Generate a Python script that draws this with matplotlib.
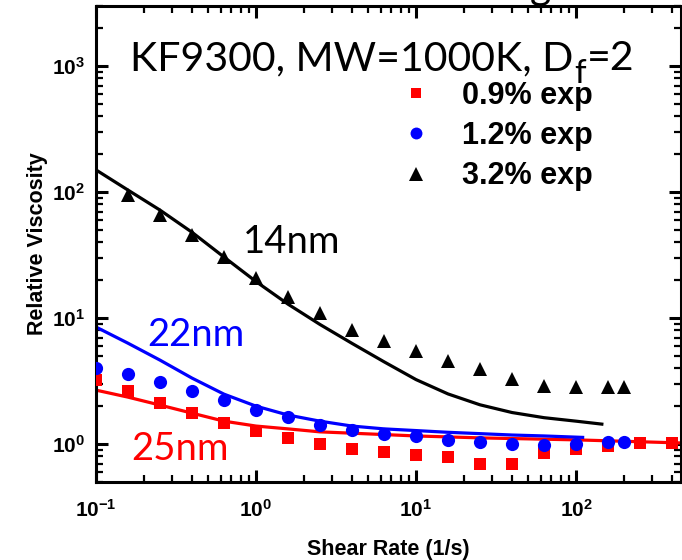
import matplotlib
matplotlib.use("Agg")
import matplotlib.pyplot as plt
from matplotlib.ticker import LogLocator, FixedLocator, FixedFormatter, NullFormatter

plt.rcParams['font.family'] = ['Liberation Sans', 'DejaVu Sans']
plt.rcParams['mathtext.fontset'] = 'custom'
plt.rcParams['mathtext.rm'] = 'Liberation Sans:bold'
plt.rcParams['mathtext.it'] = 'Liberation Sans:bold'
plt.rcParams['mathtext.bf'] = 'Liberation Sans:bold'
plt.rcParams['mathtext.default'] = 'rm'

# ---- data ----
x_exp = [0.1, 0.158, 0.251, 0.398, 0.631, 1.0, 1.585, 2.51, 3.98, 6.31, 10.0,
         15.85, 25.1, 39.8, 63.1, 100.0, 158.0, 200.0]

x_sq = [0.1, 0.158, 0.251, 0.398, 0.631, 1.0, 1.585, 2.51, 3.98, 6.31, 10.0,
        15.85, 25.1, 39.8, 63.1, 100.0, 158.0, 251.0, 398.0]
y_sq = [3.22, 2.63, 2.12, 1.76, 1.47, 1.27, 1.12, 1.0, 0.91, 0.86, 0.82,
        0.79, 0.69, 0.69, 0.85, 0.91, 0.96, 1.02, 1.02]

y_circ = [4.01, 3.59, 3.10, 2.64, 2.24, 1.86, 1.64, 1.42, 1.29, 1.20, 1.16,
          1.08, 1.04, 1.0, 0.98, 1.0, 1.04, 1.04]

x_tri = x_exp[1:]
y_tri = [94.6, 65.7, 45.6, 30.5, 20.8, 14.7, 11.0, 8.03, 6.57, 5.47, 4.56,
         3.94, 3.28, 2.89, 2.83, 2.83, 2.83]

x_m14 = [0.1, 0.158, 0.251, 0.398, 0.631, 1.0, 1.585, 2.51, 3.98, 6.31, 10.0,
         15.85, 25.1, 39.8, 63.1, 100.0, 145.0]
y_m14 = [150, 104, 72, 48, 30.5, 19.5, 12.9, 8.9, 6.3, 4.5, 3.25,
         2.5, 2.05, 1.78, 1.62, 1.52, 1.44]

x_m22 = [0.1, 0.158, 0.251, 0.398, 0.631, 1.0, 1.585, 2.51, 3.98, 6.31, 10.0,
         15.85, 25.1, 39.8, 63.1, 110.0]
y_m22 = [8.49, 6.33, 4.64, 3.34, 2.49, 2.0, 1.70, 1.52, 1.39, 1.32, 1.28,
         1.24, 1.21, 1.18, 1.16, 1.13]

x_m25 = [0.1, 0.158, 0.251, 0.398, 0.631, 1.0, 1.585, 2.51, 3.98, 10.0, 25.1,
         100.0, 460.0]
y_m25 = [2.68, 2.36, 2.04, 1.76, 1.52, 1.39, 1.32, 1.25, 1.22, 1.16, 1.12,
         1.08, 1.02]

x_ticks = [0.1, 1, 10, 100]
x_ticklabels = [r'$10^{-1}$', r'$10^{0}$', r'$10^{1}$', r'$10^{2}$']
y_ticks = [1, 10, 100, 1000]
y_ticklabels = [r'$10^{0}$', r'$10^{1}$', r'$10^{2}$', r'$10^{3}$']

legend_labels = ['0.9% exp', '1.2% exp', '3.2% exp']
title_text = ['KF9300, MW=1000K, D', 'f', '=2']
size_labels = ['14nm', '22nm', '25nm']

RED, BLUE, BLACK = '#ff0000', '#0000ff', '#000000'

fig = plt.figure(figsize=(6.82, 5.60), dpi=100)
ax = fig.add_axes([96/682, 1-482/560, (681-96)/682, (482-6)/560])
ax.set_xscale('log')
ax.set_yscale('log')

ax.plot(x_m25, y_m25, color=RED, lw=2.3, zorder=2)
ax.plot(x_m22, y_m22, color=BLUE, lw=2.3, zorder=2)
ax.plot(x_m14, y_m14, color=BLACK, lw=2.3, zorder=2)

h1, = ax.plot(x_sq, y_sq, 's', color=RED, ms=8.5, mew=0, label=legend_labels[0], zorder=3)
h2, = ax.plot(x_exp, y_circ, 'o', color=BLUE, ms=9.5, mew=0, label=legend_labels[1], zorder=3)
h3, = ax.plot(x_tri, y_tri, '^', color=BLACK, ms=10.5, mew=0, label=legend_labels[2], zorder=3)

ax.set_xlim(0.1, 453)
ax.set_ylim(0.5, 3000)

ax.xaxis.set_major_locator(FixedLocator(x_ticks))
ax.xaxis.set_major_formatter(FixedFormatter(x_ticklabels))
ax.yaxis.set_major_locator(FixedLocator(y_ticks))
ax.yaxis.set_major_formatter(FixedFormatter(y_ticklabels))
ax.xaxis.set_minor_locator(LogLocator(base=10, subs=range(2, 10)))
ax.yaxis.set_minor_locator(LogLocator(base=10, subs=range(2, 10)))
ax.xaxis.set_minor_formatter(NullFormatter())
ax.yaxis.set_minor_formatter(NullFormatter())

ax.tick_params(which='both', direction='in', top=True, right=True, labelsize=15)
ax.tick_params(axis='x', which='major', pad=12)
ax.tick_params(axis='y', which='major', pad=8)
ax.tick_params(which='major', length=8.5, width=2.2)
ax.tick_params(which='minor', length=5, width=1.6)
for s in ax.spines.values():
    s.set_linewidth(2.2)

ax.set_xlabel('Shear Rate (1/s)', fontsize=15.5, fontweight='bold', labelpad=13)
ax.set_ylabel('Relative Viscosity', fontsize=15.5, fontweight='bold', labelpad=3)

leg = ax.legend(handles=[h1, h2, h3], loc='upper left', bbox_to_anchor=(0.5, 0.868),
                frameon=False, fontsize=22, markerscale=0.9,
                handlelength=1.0, handletextpad=1.0, labelspacing=0.33,
                borderaxespad=0)
for t in leg.get_texts():
    t.set_fontweight('bold')

afont = dict(family=['Lato', 'DejaVu Sans'], fontsize=27.5)
ax.text(1.68, 40, size_labels[0], color=BLACK, ha='center', va='center', **afont)
ax.text(0.42, 7.3, size_labels[1], color=BLUE, ha='center', va='center', **afont)
ax.text(0.335, 0.91, size_labels[2], color=RED, ha='center', va='center', **afont)

# ---- title with subscript, laid out in display pixels ----
tfont = dict(family=['Lato', 'DejaVu Sans'], fontsize=29.5)
base_x, base_y = 130, 560 - 70          # left edge and baseline (display px, origin bottom)
to_ax = ax.transAxes.inverted()
t1 = ax.text(*to_ax.transform((base_x, base_y)), title_text[0], transform=ax.transAxes,
             ha='left', va='baseline', **tfont)
fig.canvas.draw()
r = fig.canvas.get_renderer()
bb1 = t1.get_window_extent(r)
t2 = ax.text(*to_ax.transform((bb1.x1 + 1, base_y - 13)), title_text[1],
             transform=ax.transAxes, ha='left', va='baseline',
             family=['Lato', 'DejaVu Sans'], fontsize=24)
fig.canvas.draw()
bb2 = t2.get_window_extent(r)
t3 = ax.text(*to_ax.transform((bb2.x1 + 1, base_y)), title_text[2],
             transform=ax.transAxes, ha='left', va='baseline', **tfont)

fig.text(540/682, 1 + 1/560, 'g', ha='center', va='baseline', **tfont)

fig.savefig('out.png', dpi=100)
